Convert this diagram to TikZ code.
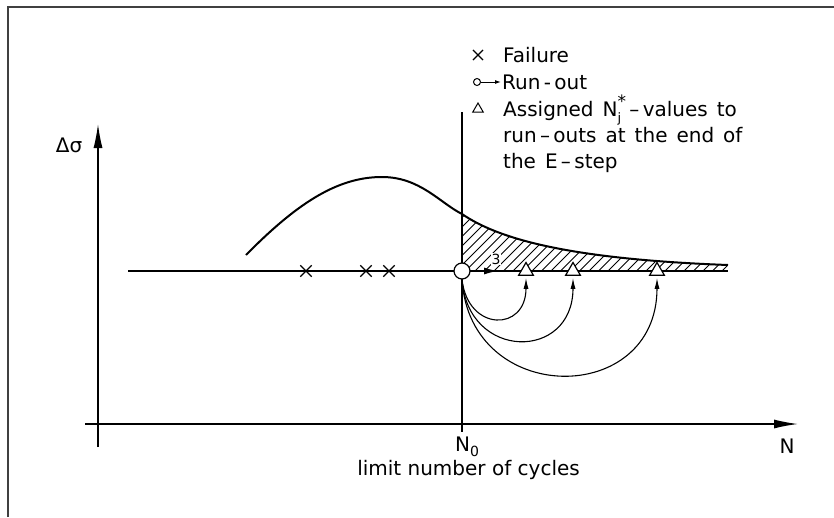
\documentclass[tikz,border=0pt]{standalone}
\usepackage{fontspec}
\setmainfont{DejaVu Sans}
\usetikzlibrary{arrows.meta,shapes.geometric,shapes.misc,calc}
\newcommand{\lblfont}{\fontsize{20}{26.5}\selectfont\spaceskip=0.45em plus 0.1em\relax}
\begin{document}
\begin{tikzpicture}[x=1pt,y=-1pt,
  frame/.style={line width=1.6pt,draw=black!75},
  axis/.style={line width=1.3pt},
  bigtip/.style={-{Latex[length=24pt,width=9pt]}},
  lbl/.style={font=\lblfont,inner sep=0pt},
  failmark/.style={cross out,draw,line width=1.3pt,minimum size=10pt,inner sep=0pt},
  tri/.style={regular polygon,regular polygon sides=3,draw,fill=white,line width=1.2pt,minimum size=17pt,inner sep=0pt},
  assign/.style={line width=1.1pt,-{Latex[length=11pt,width=5pt]},shorten >=2pt},
  hatchline/.style={line width=0.9pt}]
\useasboundingbox (0,0) rectangle (834,517);
% frame
\coordinate (fa) at (8,517);
\coordinate (fb) at (8,7);
\coordinate (fc) at (834,7);
\draw[frame] (fa) -- (fb) -- (fc);
% axes
\coordinate (yb) at (98,447);
\coordinate (yt) at (98,124);
\coordinate (xl) at (85,424);
\coordinate (xr) at (798,424);
\draw[axis,bigtip] (yb) -- (yt);
\draw[axis,bigtip] (xl) -- (xr);
\node[lbl] (ds) at (69,145) {Δσ};
\node[lbl] (nn) at (787,446) {N};
% N0 line
\coordinate (nt) at (462,112);
\coordinate (nb) at (462,432);
\draw[line width=1.1pt] (nt) -- (nb);
\node[lbl,anchor=base] (n0) at (467,451) {N\raisebox{-0.25em}{\fontsize{14}{14}\selectfont 0}};
\node[lbl,anchor=base east,font=\fontsize{20}{24}\selectfont] (lim) at (580,475) {limit number of cycles};
% hatched area
\begin{scope}
\clip (462,271) -- (462,214) .. controls (497,238) and (565,259) .. (728,265) -- (728,271) -- cycle;
\foreach \x in {380,389.5,...,760} {\draw[hatchline] (\x,290) -- ++(90,-90);}
\end{scope}
% stress level line
\coordinate (sl) at (128,271);
\coordinate (sr) at (728,271);
\draw[line width=1.2pt] (sl) -- (sr);
% S-N curve
\draw[line width=2pt] (246,255) .. controls (300,200) and (340,177) .. (382,177)
  .. controls (420,177) and (440,203) .. (462,214)
  .. controls (497,238) and (565,259) .. (728,265);
% failures
\node[failmark] (f1) at (306,271) {};
\node[failmark] (f2) at (366,271) {};
\node[failmark] (f3) at (389,271) {};
% run-out
\node[circle,draw,fill=white,line width=1.2pt,minimum size=16pt,inner sep=0pt] (ro) at (462,271) {};
\coordinate (rt) at (498,271);
\draw[line width=1.3pt,-{Latex[length=14pt,width=7pt]}] (ro) -- (rt);
\node[font=\fontsize{14}{14}\selectfont,inner sep=1pt,fill=white] (three) at (496,259) {3};
% assigned values
\node[tri] (t1) at (526,271) {};
\node[tri] (t2) at (573,271) {};
\node[tri] (t3) at (657,271) {};
\draw[assign] (ro.south) .. controls (468,332) and (526,332) .. (t1.south);
\draw[assign] (ro.south) .. controls (468,361) and (573,361) .. (t2.south);
\draw[assign] (ro.south) .. controls (470,407) and (657,407) .. (t3.south);
% legend
\node[failmark,minimum size=9pt,line width=1.1pt] (lx) at (478,55) {};
\node[lbl,anchor=base west] (lf) at (503,62) {Failure};
\node[circle,draw,line width=1pt,minimum size=7pt,inner sep=0pt] (lc) at (477,82) {};
\coordinate (lca) at (501,82);
\draw[line width=1pt,-{Latex[length=6pt,width=4pt]}] (lc) -- (lca);
\node[lbl,anchor=base west] (lr) at (502,89) {Run\,-\,out};
\node[regular polygon,regular polygon sides=3,draw,line width=1pt,minimum size=12pt,inner sep=0pt] (lt) at (478,109) {};
\node[lbl,anchor=base west] (la1) at (503,116) {Assigned N\rlap{\raisebox{-0.32em}{\fontsize{13}{13}\selectfont j}}\raisebox{0.42em}{\fontsize{17}{17}\selectfont *}\,–\,values to};
\node[lbl,anchor=base west] (la2) at (503,142) {run\,–\,outs at the end of};
\node[lbl,anchor=base west] (la3) at (503,168) {the E\,–\,step};
\end{tikzpicture}
\end{document}
